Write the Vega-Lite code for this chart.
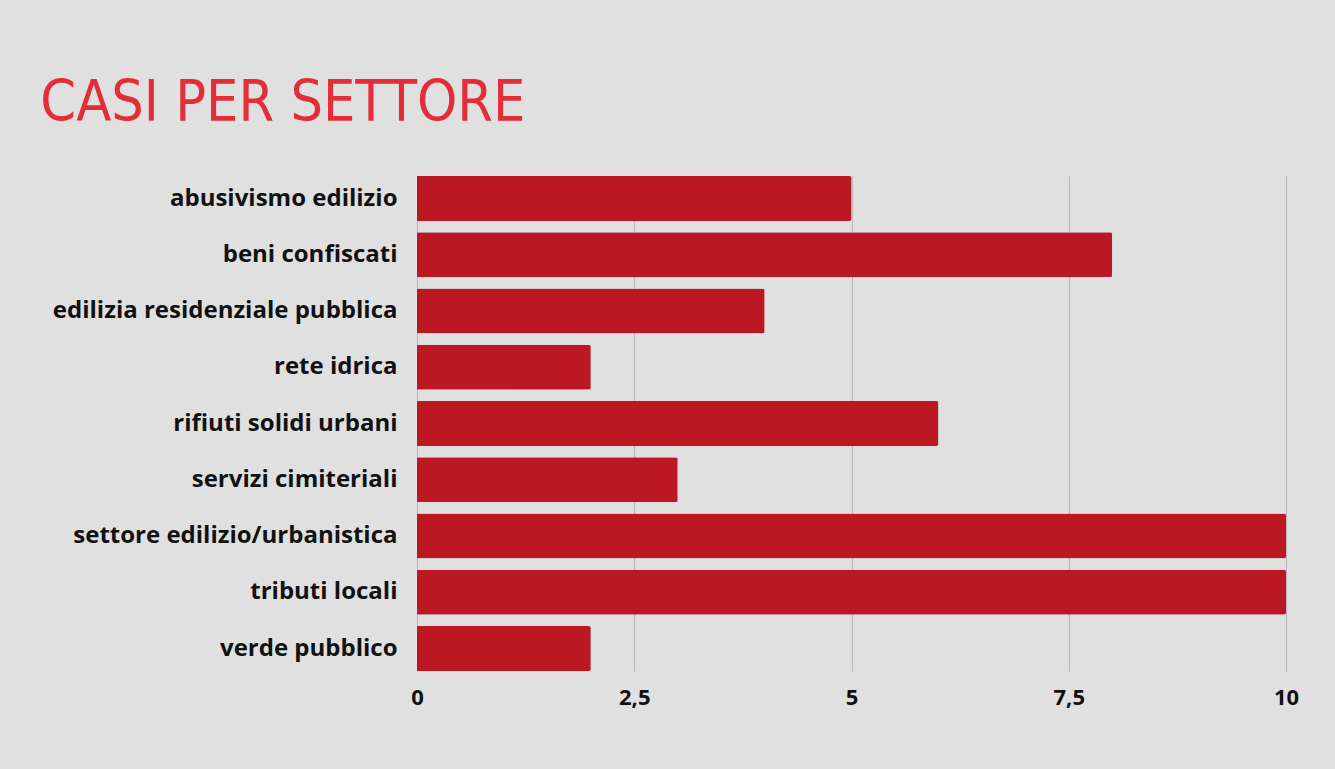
{
  "$schema": "https://vega.github.io/schema/vega-lite/v6.json",
  "autosize": {"type": "fit", "contains": "padding"},
  "width": 1335,
  "height": 769,
  "padding": {"left": 40, "top": 75, "right": 36, "bottom": 61},
  "background": "#e0e0e0",
  "title": {
    "text": "CASI PER SETTORE",
    "anchor": "start",
    "frame": "bounds",
    "dx": -12,
    "font": "'DejaVu Sans Condensed', 'Liberation Sans Narrow', Roboto, sans-serif",
    "fontSize": 57,
    "fontWeight": "normal",
    "color": "#e32d38",
    "offset": 43
  },
  "data": {
    "values": [
      {"settore": "abusivismo edilizio", "casi": 5},
      {"settore": "beni confiscati", "casi": 8},
      {"settore": "edilizia residenziale pubblica", "casi": 4},
      {"settore": "rete idrica", "casi": 2},
      {"settore": "rifiuti solidi urbani", "casi": 6},
      {"settore": "servizi cimiteriali", "casi": 3},
      {"settore": "settore edilizio/urbanistica", "casi": 10},
      {"settore": "tributi locali", "casi": 10},
      {"settore": "verde pubblico", "casi": 2}
    ]
  },
  "mark": {"type": "bar", "color": "#bc1823", "cornerRadiusEnd": 2},
  "encoding": {
    "y": {
      "field": "settore",
      "type": "nominal",
      "sort": null,
      "title": null,
      "scale": {"paddingInner": 0.2, "paddingOuter": 0},
      "axis": {
        "ticks": false,
        "domain": false,
        "labelFont": "Open Sans",
        "labelFontWeight": "bold",
        "labelFontSize": 24,
        "labelColor": "#111111",
        "labelPadding": 20,
        "labelLimit": 600
      }
    },
    "x": {
      "field": "casi",
      "type": "quantitative",
      "title": null,
      "scale": {"domain": [0, 10], "nice": false},
      "axis": {
        "values": [0, 2.5, 5, 7.5, 10],
        "format": ",.1~f",
        "formatType": "number",
        "labelExpr": "replace(datum.label, '.', ',')",
        "ticks": false,
        "domain": false,
        "grid": true,
        "gridColor": "#b8b8b8",
        "gridWidth": 1,
        "labelFont": "Open Sans",
        "labelFontWeight": "bold",
        "labelFontSize": 22,
        "labelColor": "#111111",
        "labelPadding": 16,
        "labelFlush": false
      }
    }
  },
  "config": {"view": {"stroke": null}}
}
